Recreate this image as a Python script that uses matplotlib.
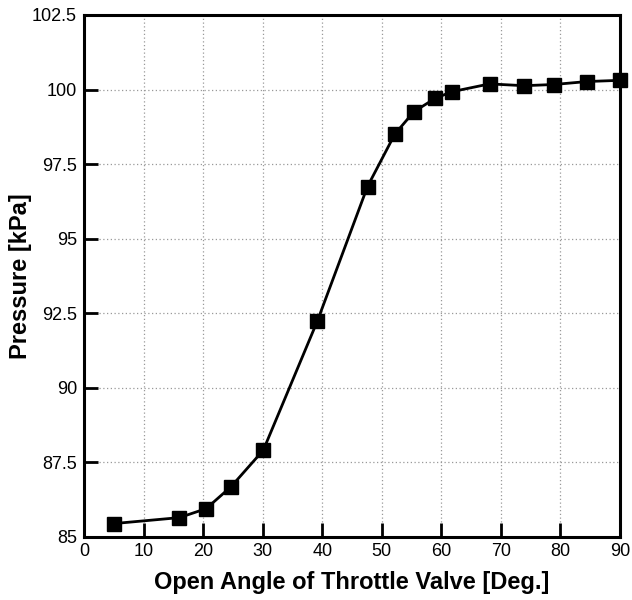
import matplotlib
matplotlib.use("Agg")
import matplotlib.pyplot as plt

# open angle [deg] vs pressure [kPa]
angle = [5, 16, 20.5, 24.7, 30.1, 39.2, 47.6, 52.2, 55.4, 59.0, 61.8, 68.1, 73.9, 78.9, 84.5, 90]
pressure = [85.45, 85.65, 85.95, 86.69, 87.91, 92.25, 96.75, 98.51, 99.26, 99.71, 99.93, 100.19, 100.13, 100.17, 100.27, 100.31]

xticks = [0, 10, 20, 30, 40, 50, 60, 70, 80, 90]
yticks = [85, 87.5, 90, 92.5, 95, 97.5, 100, 102.5]
ytick_labels = ["85", "87.5", "90", "92.5", "95", "97.5", "100", "102.5"]

plt.rcParams['font.family'] = ['Liberation Sans', 'DejaVu Sans']

fig = plt.figure(figsize=(6.32, 6.0), dpi=100)
ax = fig.add_axes([0.133, 0.105, 0.848, 0.870])

ax.plot(angle, pressure, color="black", lw=2.0, marker="s", ms=9.5,
        mfc="black", mec="black", clip_on=False, zorder=3)

ax.set_xlim(0, 90)
ax.set_ylim(85, 102.5)
ax.set_xticks(xticks)
ax.set_yticks(yticks)
ax.set_yticklabels(ytick_labels)

ax.grid(True, color="#999999", linestyle=(0, (1, 2)), linewidth=0.9)
ax.tick_params(direction="in", length=10, width=2, labelsize=13,
               top=False, right=False)
ax.tick_params(axis="x", pad=4)
ax.tick_params(axis="y", pad=5)
for s in ax.spines.values():
    s.set_linewidth(2.2)

ax.set_xlabel("Open Angle of Throttle Valve [Deg.]", fontsize=17,
              fontweight="bold", labelpad=8)
ax.set_ylabel("Pressure [kPa]", fontsize=17, fontweight="bold")
ax.yaxis.set_label_coords(-0.098, 0.5)

fig.savefig("out.png", dpi=100)
plt.close(fig)
